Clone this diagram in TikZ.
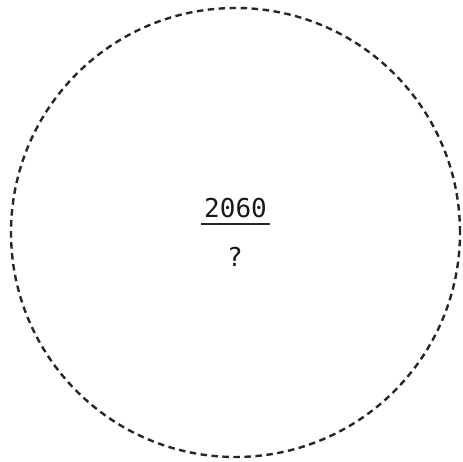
\documentclass[tikz,border=0pt]{standalone}
\usepackage{fontspec}
\setmonofont{DejaVu Sans Mono}
\usetikzlibrary{positioning}

\begin{document}
\begin{tikzpicture}[x=1pt, y=-1pt,
    ring/.style={circle, draw=black!85, line width=2.4pt, dash pattern=on 6.5pt off 4.5pt, minimum size=449pt, inner sep=0pt},
    label/.style={font=\ttfamily\fontsize{26}{30}\selectfont, text=black!90, inner sep=0pt},
    node distance=1cm
    ]
    \useasboundingbox (0,0) rectangle (463,462);
    \node[ring] (era) at (235.5,232.5) {};
    \node[label, anchor=base] (year) at (235.5,218) {2060};
    \node[label, anchor=base] (unknown) at (235,267) {?};

    \draw[line width=2.6pt, black!85] ([xshift=-3pt, yshift=-6pt]year.base west) -- ([xshift=3pt, yshift=-6pt]year.base east);
\end{tikzpicture}
\end{document}
